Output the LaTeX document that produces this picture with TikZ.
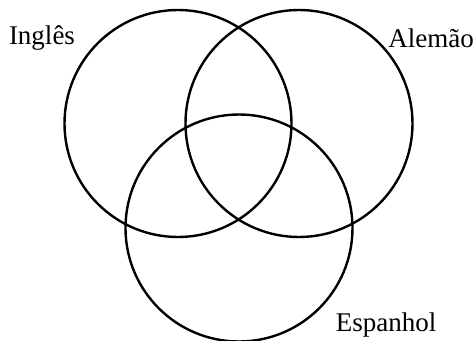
\documentclass[tikz,border=0pt]{standalone}
\usepackage{fontspec}
\setmainfont{Liberation Serif}
\begin{document}
\begin{tikzpicture}[x=1pt,y=-1pt,
  setcircle/.style={draw=black,line width=2.4pt},
  setlabel/.style={font=\fontsize{27}{31}\selectfont,inner sep=0pt,anchor=base}]
\useasboundingbox (0,0) rectangle (476,340);
\node[setcircle,circle,minimum size=227pt,inner sep=0pt] (ingles) at (178,123.5) {};
\node[setcircle,circle,minimum size=227pt,inner sep=0pt] (alemao) at (299,123.5) {};
\node[setcircle,circle,minimum size=227pt,inner sep=0pt] (espanhol) at (239,228) {};
\node[setlabel] (li) at (42,44) {Inglês};
\node[setlabel] (la) at (431,47) {Alemão};
\node[setlabel] (le) at (386,331) {Espanhol};
\end{tikzpicture}
\end{document}
